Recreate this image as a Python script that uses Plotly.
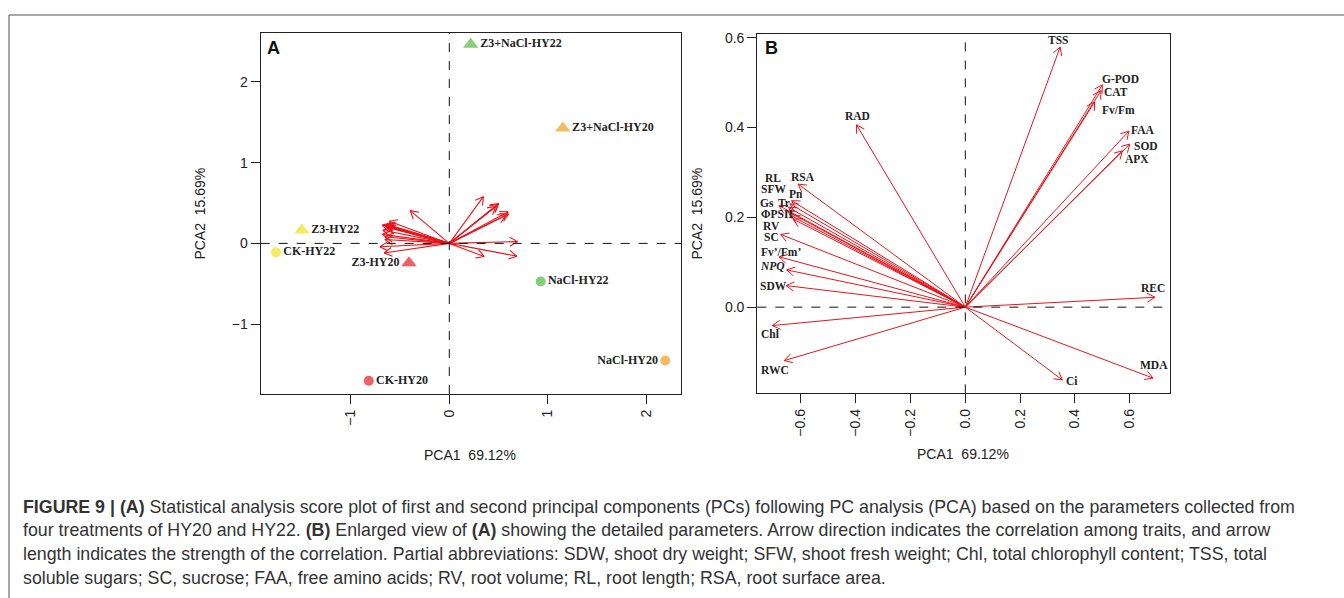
import math
import plotly.graph_objects as go

W, H = 1344, 598

# ---------------- data ----------------
treatments = ["Z3+NaCl-HY22", "Z3+NaCl-HY20", "Z3-HY22", "CK-HY22",
              "Z3-HY20", "NaCl-HY22", "NaCl-HY20", "CK-HY20"]
pc1_scores = [0.217, 1.150, -1.497, -1.758, -0.409, 0.927, 2.190, -0.817]
pc2_scores = [2.464, 1.427, 0.164, -0.111, -0.242, -0.471, -1.451, -1.700]

traits = ["TSS", "G-POD", "CAT", "Fv/Fm", "FAA", "SOD", "APX", "REC", "MDA", "Ci",
          "RWC", "Chl", "SDW", "NPQ", "Fv’/Fm’", "SC", "RV", "ΦPSII", "Gs", "Tr",
          "Pn", "SFW", "RL", "RSA", "RAD"]
pc1_loadings = [0.346, 0.500, 0.495, 0.472, 0.597, 0.600, 0.573, 0.692, 0.685, 0.354,
                -0.661, -0.704, -0.654, -0.652, -0.679, -0.674, -0.628, -0.634, -0.680, -0.640,
                -0.634, -0.645, -0.648, -0.610, -0.397]
pc2_loadings = [0.579, 0.495, 0.482, 0.457, 0.392, 0.363, 0.348, 0.022, -0.158, -0.162,
                -0.119, -0.041, 0.048, 0.083, 0.112, 0.162, 0.196, 0.203, 0.226, 0.230,
                0.237, 0.222, 0.213, 0.274, 0.406]

ticks_A_x = [-1, 0, 1, 2]
ticks_A_y = [-1, 0, 1, 2]
ticks_B_x = [-0.6, -0.4, -0.2, 0.0, 0.2, 0.4, 0.6]
ticks_B_y = [0.0, 0.2, 0.4, 0.6]

pc1_title = "PCA1  69.12%"
pc2_title = "PCA2  15.69%"

caption_lines = [
    "<b>FIGURE 9 |</b> <b>(A)</b> Statistical analysis score plot of first and second principal components (PCs) following PC analysis (PCA) based on the parameters collected from",
    "four treatments of HY20 and HY22. <b>(B)</b> Enlarged view of <b>(A)</b> showing the detailed parameters. Arrow direction indicates the correlation among traits, and arrow",
    "length indicates the strength of the correlation. Partial abbreviations: SDW, shoot dry weight; SFW, shoot fresh weight; Chl, total chlorophyll content; TSS, total",
    "soluble sugars; SC, sucrose; FAA, free amino acids; RV, root volume; RL, root length; RSA, root surface area.",
]

# ---------------- style ----------------
treat_color = {"Z3+NaCl-HY22": "#56b83f", "NaCl-HY22": "#56b83f",
               "Z3+NaCl-HY20": "#f49d1f", "NaCl-HY20": "#f49d1f",
               "Z3-HY22": "#efe31c", "CK-HY22": "#efe31c",
               "Z3-HY20": "#e81c26", "CK-HY20": "#e81c26"}
treat_symbol = {t: ("triangle-up" if t.startswith("Z3") else "circle") for t in treatments}
treat_textpos = {t: "middle right" for t in treatments}
treat_textpos["Z3-HY20"] = "middle left"
treat_textpos["NaCl-HY20"] = "middle left"

# label placement for panel B (data units)
label_pos = {
    "TSS": (0.340, 0.594), "G-POD": (0.568, 0.507), "CAT": (0.550, 0.480),
    "Fv/Fm": (0.559, 0.439), "FAA": (0.646, 0.395), "SOD": (0.660, 0.358),
    "APX": (0.626, 0.330), "REC": (0.686, 0.0435), "MDA": (0.690, -0.128),
    "Ci": (0.388, -0.164), "RWC": (-0.694, -0.139), "Chl": (-0.711, -0.060),
    "SDW": (-0.701, 0.047), "NPQ": (-0.703, 0.091), "Fv’/Fm’": (-0.674, 0.122),
    "SC": (-0.708, 0.156), "RV": (-0.708, 0.181), "ΦPSII": (-0.686, 0.207),
    "Gs": (-0.722, 0.231), "Tr": (-0.661, 0.233), "Pn": (-0.618, 0.251),
    "SFW": (-0.701, 0.262), "RL": (-0.703, 0.287), "RSA": (-0.591, 0.290),
    "RAD": (-0.393, 0.426),
}

ARROW = "#e8151b"
AXC = "#222222"

# panel geometry in pixels: (left, right, top, bottom), ranges
panels = {
    "A": dict(px=(260.7, 681.0, 29.0, 392.7), xr=(-1.913, 2.350), yr=(-1.866, 2.608)),
    "B": dict(px=(757.3, 1170.3, 30.3, 392.0), xr=(-0.759, 0.748), yr=(-0.192, 0.608)),
}


def scales(p):
    l, r, t, b = p["px"]
    sx = (r - l) / (p["xr"][1] - p["xr"][0])
    sy = (b - t) / (p["yr"][1] - p["yr"][0])
    return sx, sy


def arrow_paths(xs, ys, sx, sy, head=9.0, ang=30.0):
    X, Y = [], []
    for x, y in zip(xs, ys):
        X += [0, x, None]
        Y += [0, y, None]
        a = math.atan2(y * sy, x * sx)
        for s in (1, -1):
            aa = a + s * math.radians(ang)
            hx = x - head * math.cos(aa) / sx
            hy = y - head * math.sin(aa) / sy
            X += [hx, x, None]
            Y += [hy, y, None]
    return X, Y


fig = go.Figure()

# ---- panel A ----
sxA, syA = scales(panels["A"])
ax_, ay_ = arrow_paths(pc1_loadings, pc2_loadings, sxA, syA)
fig.add_trace(go.Scatter(x=ax_, y=ay_, mode="lines", line=dict(color=ARROW, width=1.1),
                         hoverinfo="skip", showlegend=False, xaxis="x", yaxis="y"))
fig.add_trace(go.Scatter(
    x=pc1_scores, y=pc2_scores, mode="markers+text", text=treatments,
    textposition=[treat_textpos[t] for t in treatments],
    textfont=dict(family="Liberation Serif", size=12, color="#222"),
    marker=dict(color=[treat_color[t] for t in treatments],
                symbol=[treat_symbol[t] for t in treatments],
                size=[13.5 if treat_symbol[t] != "circle" else 10 for t in treatments],
                line=dict(width=0)),
    texttemplate="<b>%{text}</b>",
    showlegend=False, xaxis="x", yaxis="y"))

# ---- panel B ----
sxB, syB = scales(panels["B"])
bx_, by_ = arrow_paths(pc1_loadings, pc2_loadings, sxB, syB)
fig.add_trace(go.Scatter(x=bx_, y=by_, mode="lines", line=dict(color=ARROW, width=1),
                         hoverinfo="skip", showlegend=False, xaxis="x2", yaxis="y2"))

annotations = []
for t in traits:
    lx, ly = label_pos[t]
    txt = "<b><i>NPQ</i></b>" if t == "NPQ" else f"<b>{t}</b>"
    annotations.append(dict(x=lx, y=ly, xref="x2", yref="y2", text=txt, showarrow=False,
                            font=dict(family="Liberation Serif", size=11.5, color="#222")))


def dom(p):
    l, r, t, b = p["px"]
    return [l / W, r / W], [1 - b / H, 1 - t / H]


axis_common = dict(showline=True, mirror=True, linecolor=AXC, linewidth=1.2,
                   ticks="outside", ticklen=9, tickcolor=AXC, tickwidth=1,
                   showgrid=False, zeroline=False,
                   tickfont=dict(family="Liberation Sans", size=14, color=AXC))

dAx, dAy = dom(panels["A"])
dBx, dBy = dom(panels["B"])

fig.update_layout(
    width=W, height=H, margin=dict(l=0, r=0, t=0, b=0),
    paper_bgcolor="white", plot_bgcolor="white", showlegend=False,
    xaxis=dict(domain=dAx, range=list(panels["A"]["xr"]), tickvals=ticks_A_x,
               ticktext=[("−" if v < 0 else "") + str(abs(v)) for v in ticks_A_x],
               tickangle=-90, anchor="y", **axis_common),
    yaxis=dict(domain=dAy, range=list(panels["A"]["yr"]), tickvals=ticks_A_y,
               ticktext=[("−" if v < 0 else "") + str(abs(v)) for v in ticks_A_y],
               anchor="x", **axis_common),
    xaxis2=dict(domain=dBx, range=list(panels["B"]["xr"]), tickvals=ticks_B_x,
                ticktext=[("−" if v < 0 else "") + f"{abs(v):.1f}" for v in ticks_B_x],
                tickangle=-90, anchor="y2", **axis_common),
    yaxis2=dict(domain=dBy, range=list(panels["B"]["yr"]), tickvals=ticks_B_y,
                ticktext=[f"{v:.1f}" for v in ticks_B_y],
                anchor="x2", **axis_common),
)

shapes = []
for xa, ya in (("x", "y"), ("x2", "y2")):
    shapes.append(dict(type="line", xref=xa, yref=ya + " domain", x0=0, x1=0, y0=0, y1=1,
                       line=dict(color="#111", width=1, dash="dash")))
    shapes.append(dict(type="line", xref=xa + " domain", yref=ya, x0=0, x1=1, y0=0, y1=0,
                       line=dict(color="#111", width=1, dash="dash")))
# outer frame (top and left)
shapes.append(dict(type="line", xref="paper", yref="paper", x0=9 / W, x1=1, y0=1 - 11 / H, y1=1 - 11 / H,
                   line=dict(color="#8a8a8a", width=1.5)))
shapes.append(dict(type="line", xref="paper", yref="paper", x0=9 / W, x1=9 / W, y0=0, y1=1 - 11 / H,
                   line=dict(color="#8a8a8a", width=1.5)))

# panel letters
annotations.append(dict(x=265 / W, y=1 - 44 / H, xref="paper", yref="paper", text="<b>A</b>",
                        showarrow=False, xanchor="left", yanchor="middle",
                        font=dict(family="Liberation Sans", size=18, color="#111")))
annotations.append(dict(x=763 / W, y=1 - 44 / H, xref="paper", yref="paper", text="<b>B</b>",
                        showarrow=False, xanchor="left", yanchor="middle",
                        font=dict(family="Liberation Sans", size=18, color="#111")))

# axis titles
title_font = dict(family="Liberation Sans", size=14, color=AXC)
for cx, cy in ((470, 454), (963, 453)):
    annotations.append(dict(x=cx / W, y=1 - cy / H, xref="paper", yref="paper", text=pc1_title,
                            showarrow=False, xanchor="center", yanchor="middle", font=title_font))
for cx, cy in ((200, 211), (697, 211)):
    annotations.append(dict(x=cx / W, y=1 - cy / H, xref="paper", yref="paper", text=pc2_title,
                            showarrow=False, xanchor="center", yanchor="middle", textangle=-90,
                            font=title_font))

# caption
for i, line in enumerate(caption_lines):
    annotations.append(dict(x=21 / W, y=1 - (506 + 24 * i) / H, xref="paper", yref="paper",
                            text=line, showarrow=False, xanchor="left", yanchor="middle",
                            font=dict(family="Liberation Sans", size=17.8, color="#333")))

fig.update_layout(shapes=shapes, annotations=annotations)
fig.write_html("out.html", config={"displayModeBar": False},
               post_script="document.body.style.margin='0';document.body.style.overflow='hidden';")
